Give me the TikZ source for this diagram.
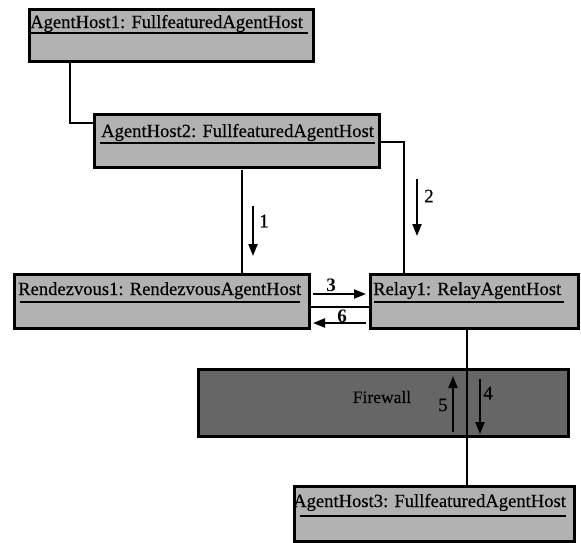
\documentclass[tikz,border=0pt]{standalone}
\usepackage{fontspec}
\setmainfont{Liberation Serif}
\newfontfamily\titlefont[FakeBold=0.35]{Liberation Serif}
\usetikzlibrary{arrows.meta}
\definecolor{boxgray}{RGB}{178,178,178}
\definecolor{fwgray}{RGB}{102,102,102}
\begin{document}
\begin{tikzpicture}[x=1pt,y=-1pt,
  objbox/.style={draw=black,line width=2.6pt,fill=boxgray,anchor=north west,inner sep=0pt},
  fwbox/.style={draw=black,line width=2.6pt,fill=fwgray,anchor=north west,inner sep=0pt},
  title/.style={anchor=base west,inner sep=0pt,font=\titlefont\fontsize{18.6}{20}\selectfont},
  uline/.style={line width=2pt},
  conn/.style={line width=2pt},
  msg/.style={line width=2pt,-{Triangle[length=12pt,width=9pt]}},
  num/.style={inner sep=0pt,font=\titlefont\fontsize{19}{20}\selectfont},
  bnum/.style={inner sep=0pt,font=\bfseries\fontsize{19}{20}\selectfont}]
\useasboundingbox (0,0) rectangle (581,542);

% boxes
\node[objbox,minimum width=284pt,minimum height=52pt] (ah1) at (28,8) {};
\node[objbox,minimum width=285pt,minimum height=53pt] (ah2) at (93,113) {};
\node[objbox,minimum width=295pt,minimum height=54pt] (rdv) at (13,273) {};
\node[objbox,minimum width=208pt,minimum height=54pt] (relay) at (369,273) {};
\node[fwbox,minimum width=370pt,minimum height=67pt] (fw) at (197,368) {};
\node[objbox,minimum width=280pt,minimum height=55pt] (ah3) at (293,485) {};

% titles
\node[title] (ah1t) at (30,28) {AgentHost1: FullfeaturedAgentHost};
\node[title] (ah2t) at (101,137) {AgentHost2: FullfeaturedAgentHost};
\node[title] (rdvt) at (18,295) {Rendezvous1: RendezvousAgentHost};
\node[title] (relayt) at (373,295) {Relay1: RelayAgentHost};
\node[title] (ah3t) at (293,507) {AgentHost3: FullfeaturedAgentHost};
\node[inner sep=0pt,font=\titlefont\fontsize{17.5}{18}\selectfont] (fwt) at (382,397) {Firewall};

% underlines
\draw[uline] (30,33) -- (308,33);
\draw[uline] (100,143) -- (375,143);
\draw[uline] (20,302) -- (300,302);
\draw[uline] (374,302) -- (564,302);
\draw[uline] (300,516) -- (566,516);

% connectors
\draw[conn] (ah1.south -| 70,0) |- (ah2.west |- 0,123);
\draw[conn] (ah2.east |- 0,142) -| (relay.north -| 404,0);
\coordinate (g1) at (242,170);
\draw[conn] (g1) -- (rdv.north -| g1);
\draw[conn] (rdv.east |- 0,307) -- (relay.west |- 0,307);
\draw[conn] (relay.south -| 467,0) -- (ah3.north -| 467,0);

% messages
\coordinate (m1a) at (253,206); \coordinate (m1b) at (253,256);
\draw[msg] (m1a) -- (m1b);
\node[num] (n1) at (264,221) {1};
\coordinate (m2a) at (417,179); \coordinate (m2b) at (417,236);
\draw[msg] (m2a) -- (m2b);
\node[num] (n2) at (429,196) {2};
\coordinate (m3a) at (313,294); \coordinate (m3b) at (366,294);
\draw[msg] (m3a) -- (m3b);
\node[bnum] (n3) at (331,285) {3};
\coordinate (m6a) at (366,323); \coordinate (m6b) at (313,323);
\draw[msg] (m6a) -- (m6b);
\node[bnum] (n6) at (342,316) {6};
\coordinate (m5a) at (453,432); \coordinate (m5b) at (453,376);
\draw[msg] (m5a) -- (m5b);
\node[num] (n5) at (443,405) {5};
\coordinate (m4a) at (480,379); \coordinate (m4b) at (480,434);
\draw[msg] (m4a) -- (m4b);
\node[num] (n4) at (488,393) {4};
\end{tikzpicture}
\end{document}
